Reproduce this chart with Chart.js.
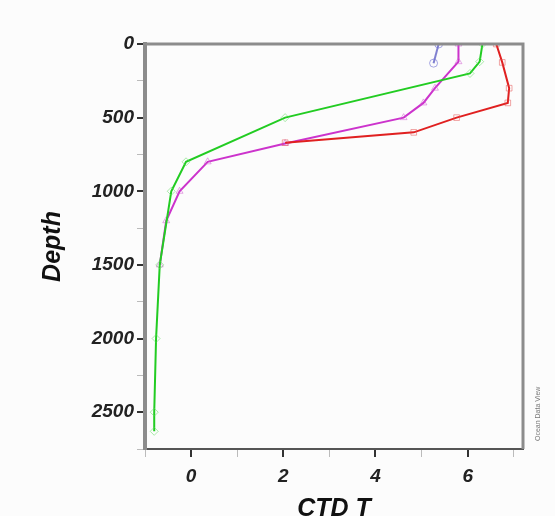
<!DOCTYPE html>
<html>
<head>
<meta charset="utf-8">
<script src="https://cdn.jsdelivr.net/npm/chart.js"></script>
<style>
  html, body { margin: 0; padding: 0; background: #fcfcfc; }
  #wrap { width: 555px; height: 516px; }
</style>
</head>
<body>
<div id="wrap"><canvas id="ctdChart" width="555" height="516"></canvas></div>
<script>
// --- profile data (temperature vs depth) ---
const greenTemp   = [6.32, 6.26, 6.05, 2.04, -0.11, -0.43, -0.68, -0.76, -0.80, -0.80];
const greenDepth  = [0, 120, 200, 500, 800, 1000, 1500, 2000, 2500, 2630];

const purpleTemp  = [5.80, 5.80, 5.29, 5.04, 4.61, 2.04, 0.36, -0.25, -0.54, -0.68];
const purpleDepth = [0, 120, 300, 400, 500, 675, 800, 1000, 1200, 1500];

const redTemp     = [6.62, 6.75, 6.90, 6.87, 5.76, 4.83, 2.04];
const redDepth    = [0, 125, 300, 400, 500, 600, 670];

const blueTemp    = [5.37, 5.26];
const blueDepth   = [0, 130];

// axis ticks
const xTicks = [-1, 0, 1, 2, 3, 4, 5, 6, 7];
const xLabels = ['', '0', '', '2', '', '4', '', '6', ''];
const yTicks = [0, 250, 500, 750, 1000, 1250, 1500, 1750, 2000, 2250, 2500, 2750];
const yLabels = ['0', '', '500', '', '1000', '', '1500', '', '2000', '', '2500', ''];

const toPoints = (t, d) => t.map((v, i) => ({ x: v, y: d[i] }));

const tickFont = { family: 'Liberation Sans', size: 19, weight: 'bold', style: 'italic' };
const titleFont = { family: 'Liberation Sans', size: 25, weight: 'bold', style: 'italic' };

// top + right frame and the small ODV credit
const framePlugin = {
    id: 'framePlugin',
    afterDraw(chart) {
        const { ctx, chartArea: { top, bottom, left, right } } = chart;
        ctx.save();
        ctx.strokeStyle = '#8c8c8c';
        ctx.lineWidth = 3;
        ctx.beginPath();
        ctx.moveTo(left, top);
        ctx.lineTo(right, top);
        ctx.lineTo(right, bottom);
        ctx.stroke();

        ctx.translate(right + 15, bottom - 8);
        ctx.rotate(-Math.PI / 2);
        ctx.fillStyle = '#777';
        ctx.font = '7px "Liberation Sans"';
        ctx.textAlign = 'left';
        ctx.textBaseline = 'middle';
        ctx.fillText('Ocean Data View', 0, 0);
        ctx.restore();
    }
};

const mkSet = (data, color, marker, style) => ({
    data: data,
    showLine: true,
    borderColor: color,
    borderWidth: 2,
    pointStyle: style,
    pointRadius: 4,
    pointBorderWidth: 1,
    pointBorderColor: marker,
    pointBackgroundColor: 'rgba(0,0,0,0)',
    tension: 0
});

new Chart(document.getElementById('ctdChart'), {
    type: 'scatter',
    data: {
        datasets: [
            mkSet(toPoints(blueTemp, blueDepth), '#8080d0', 'rgba(110,110,210,0.6)', 'circle'),
            mkSet(toPoints(redTemp, redDepth), '#e02020', 'rgba(230,80,80,0.5)', 'rect'),
            mkSet(toPoints(greenTemp, greenDepth), '#22cc22', 'rgba(90,220,90,0.5)', 'rectRot'),
            mkSet(toPoints(purpleTemp, purpleDepth), '#cc33cc', 'rgba(210,90,210,0.5)', 'triangle')
        ]
    },
    options: {
        responsive: false,
        animation: false,
        layout: { padding: { top: 44, right: 32, left: 0, bottom: 0 } },
        plugins: { legend: { display: false }, tooltip: { enabled: false } },
        scales: {
            x: {
                type: 'linear',
                min: -1,
                max: 7.2,
                afterBuildTicks: s => { s.ticks = xTicks.map(v => ({ value: v })); },
                afterFit: s => { s.height = 67; },
                ticks: {
                    autoSkip: false,
                    maxRotation: 0,
                    padding: 8,
                    color: '#222',
                    font: tickFont,
                    callback: (v, i) => xLabels[i]
                },
                grid: {
                    drawOnChartArea: false,
                    tickLength: 8,
                    color: c => (c.tick && c.tick.value % 2 === 0) ? '#333' : '#bbb',
                    lineWidth: c => (c.tick && c.tick.value % 2 === 0) ? 2 : 1
                },
                border: { color: '#555', width: 2 },
                title: { display: true, text: 'CTD T', color: '#111', font: titleFont, padding: { top: 0, bottom: -8 } }
            },
            y: {
                type: 'linear',
                reverse: true,
                min: 0,
                max: 2750,
                afterBuildTicks: s => { s.ticks = yTicks.map(v => ({ value: v })); },
                afterFit: s => { s.width = 145; },
                ticks: {
                    autoSkip: false,
                    padding: 3,
                    color: '#222',
                    font: tickFont,
                    callback: (v, i) => yLabels[i]
                },
                grid: {
                    drawOnChartArea: false,
                    tickLength: 8,
                    color: c => (c.tick && c.tick.value % 500 === 0) ? '#333' : '#bbb',
                    lineWidth: c => (c.tick && c.tick.value % 500 === 0) ? 2 : 1
                },
                border: { color: '#8c8c8c', width: 4 },
                title: { display: true, text: 'Depth', color: '#111', font: titleFont, padding: { top: 38, bottom: 0 } }
            }
        }
    },
    plugins: [framePlugin]
});
</script>
</body>
</html>
